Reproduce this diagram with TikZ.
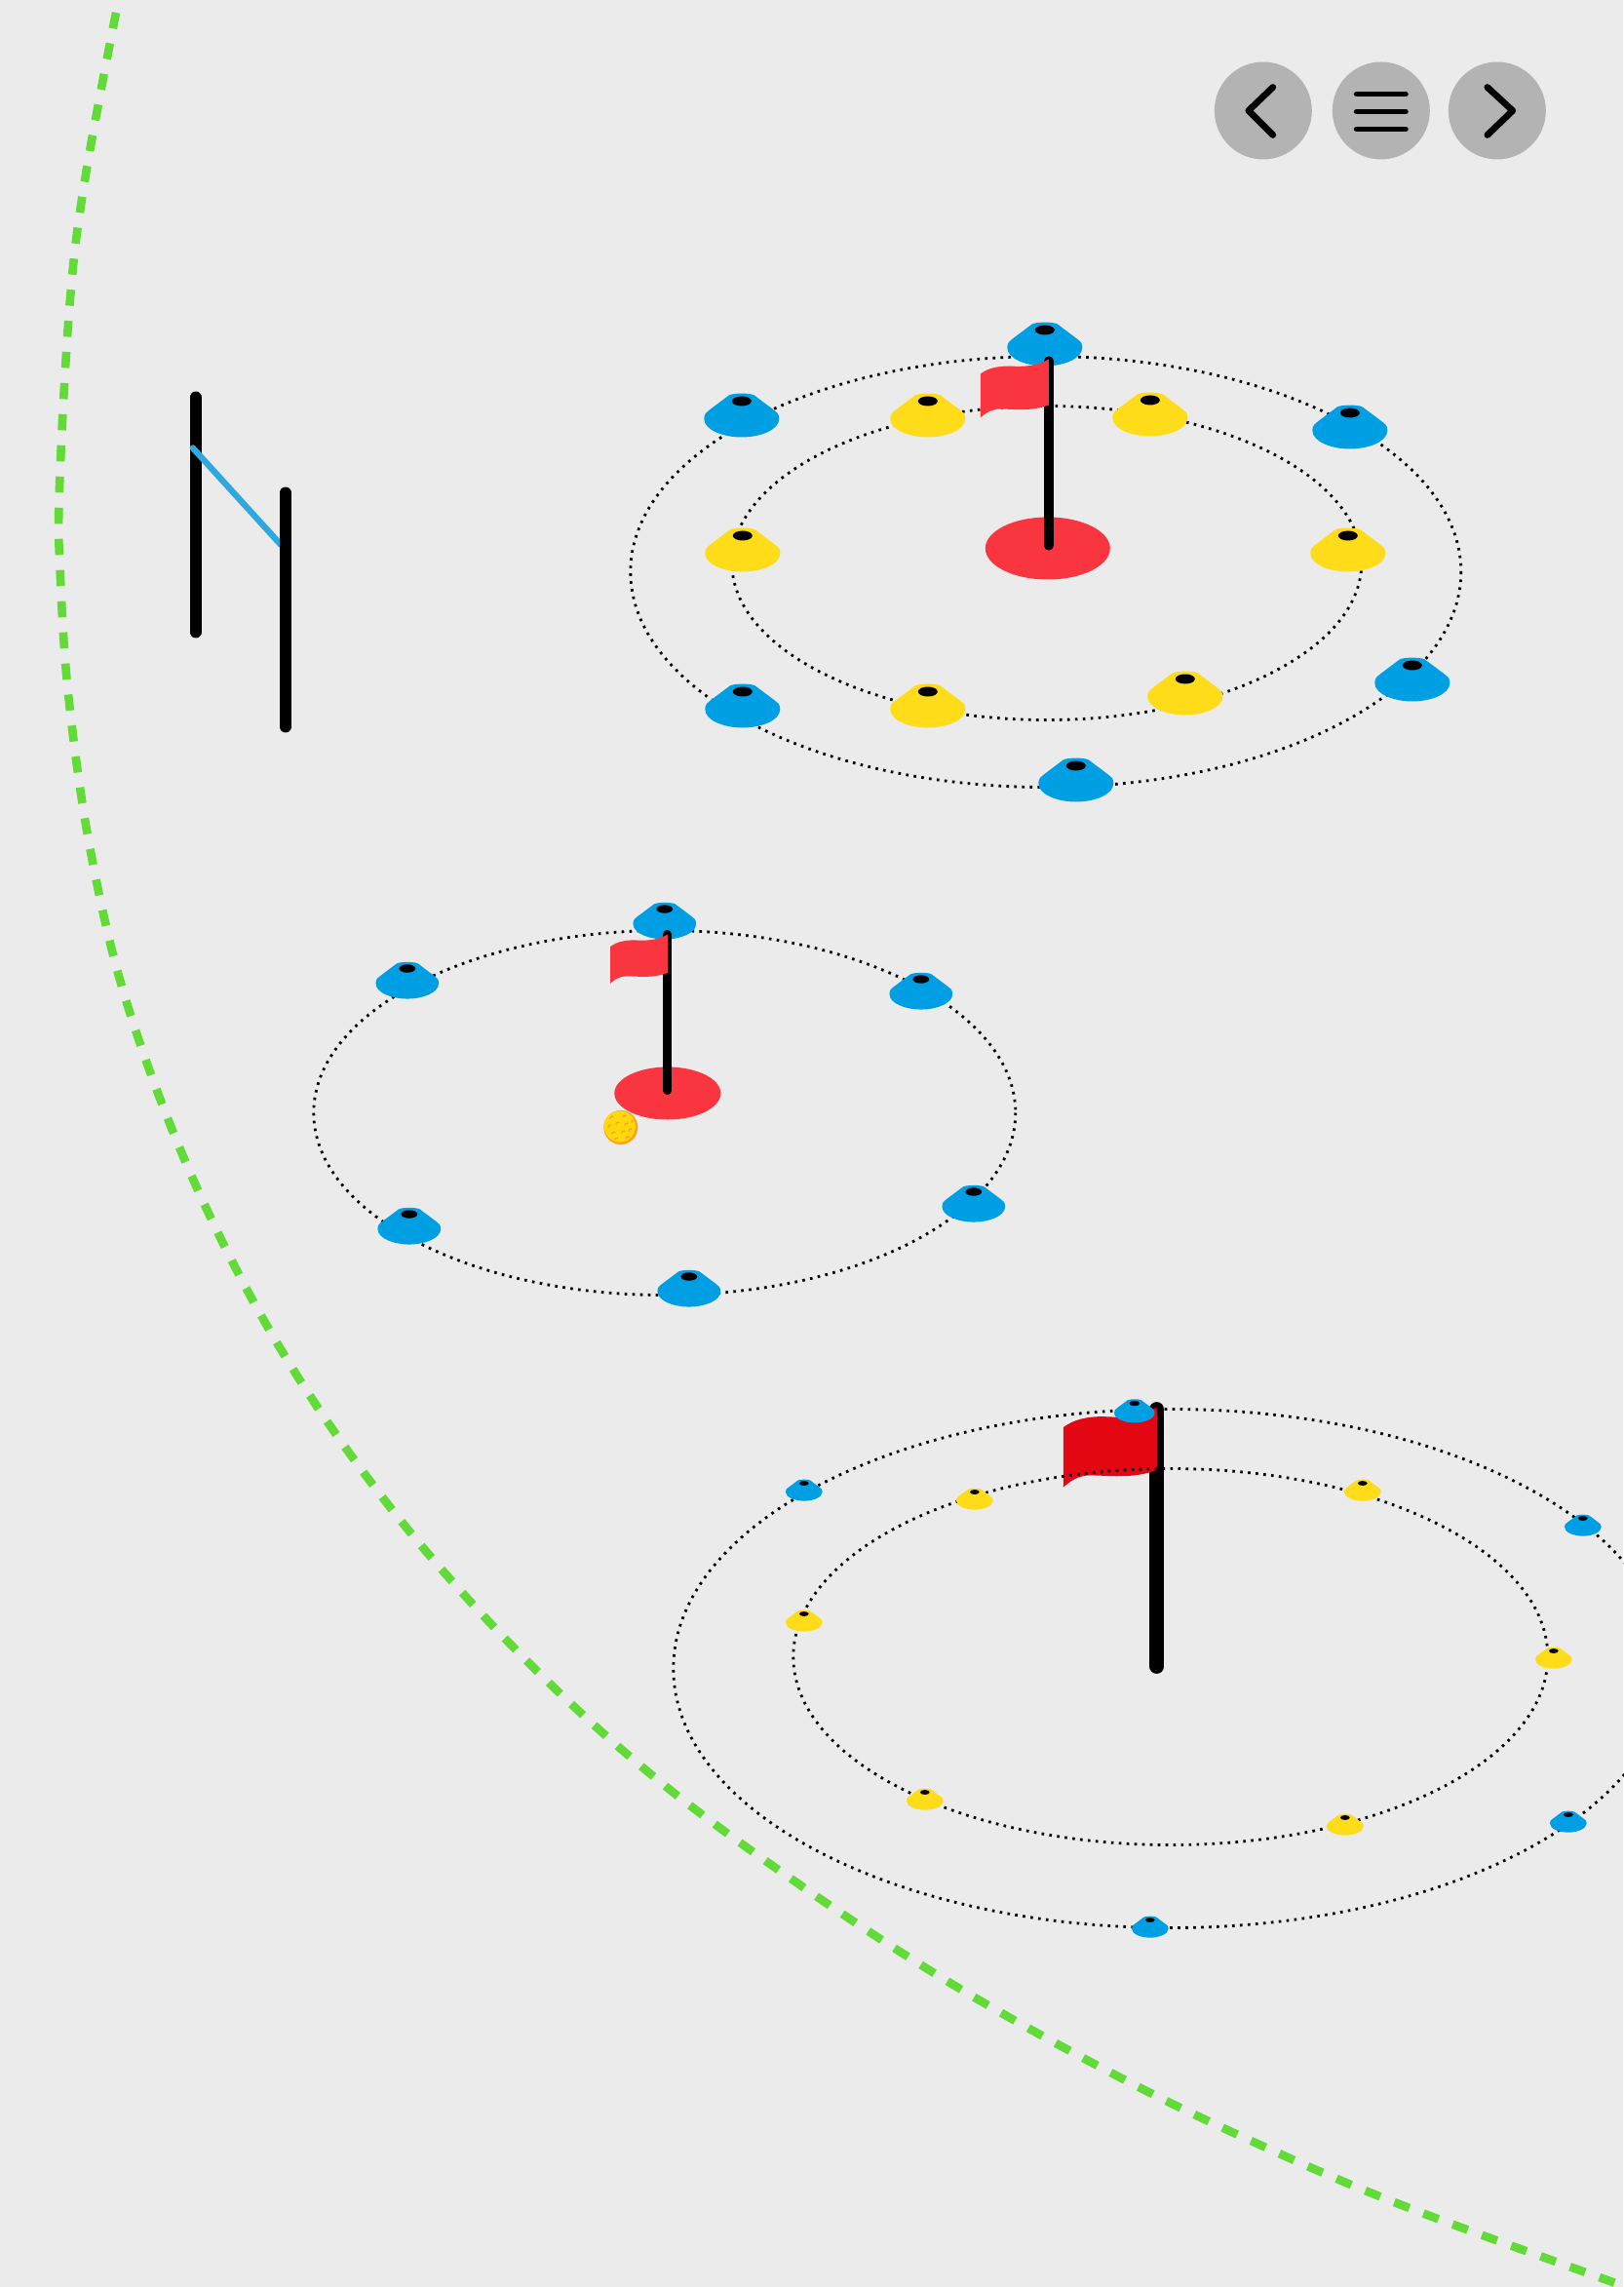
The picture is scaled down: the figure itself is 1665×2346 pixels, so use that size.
\documentclass[tikz,border=0pt]{standalone}
\definecolor{bg}{HTML}{EBEBEB}
\definecolor{cblue}{HTML}{009FE3}
\definecolor{cyellow}{HTML}{FFDC1A}
\definecolor{cred}{HTML}{F93640}
\definecolor{dred}{HTML}{E30613}
\definecolor{cgreen}{HTML}{62DA37}
\definecolor{lblue}{HTML}{2FA8E0}
\definecolor{btn}{HTML}{B3B3B3}
\definecolor{ballY}{HTML}{FFD80F}
\definecolor{ballO}{HTML}{FFA20F}
\newcommand{\conemark}[4]{%
\begin{scope}[shift={(#1,#2)},scale=#3]
\fill[#4] (-38.5,18) .. controls (-38.5,13) and (-36,11) .. (-33,9) -- (-13,-6) .. controls (-9,-8.5) and (9,-8.5) .. (13,-6) -- (33,9) .. controls (36,11) and (38.5,13) .. (38.5,18) .. controls (38.5,30) and (18,37) .. (0,37) .. controls (-18,37) and (-38.5,30) .. (-38.5,18) -- cycle;
\fill[black] (0,0) ellipse [x radius=10,y radius=5];
\end{scope}}
\newcommand{\flagmark}[4]{%
\begin{scope}[shift={(#1,#2)},scale=#3]
\fill[#4] (0,0) -- (0,47) .. controls (-18,54) and (-38,51) .. (-50,51) .. controls (-58,51) and (-65,55) .. (-70,60) -- (-70,15) .. controls (-62,9) and (-52,7) .. (-40,7) .. controls (-25,8) and (-12,7) .. (0,0) -- cycle;
\end{scope}}
\begin{document}
\begin{tikzpicture}[x=0.01cm,y=-0.01cm,
  ring/.style={draw=black,line width=0.8pt,dash pattern=on 0.75pt off 1.52pt},
  pole/.style={draw=black,line cap=round},
  chev/.style={draw=black,line width=1.9pt,line cap=round,line join=round}]
\useasboundingbox (0,0) rectangle (1665,2346);
\fill[bg] (0,0) rectangle (1665,2346);
% boundary
\draw[cgreen,line width=2.45pt,dash pattern=on 4.7pt off 4.4pt] plot[smooth,tension=0.6] coordinates {(119,13) (88,179) (72,306) (61,500) (62,593) (71,721) (94,879) (132,1035) (200,1214) (288,1384) (397,1542) (524,1687) (664,1817) (817,1931) (978,2036) (1147,2130) (1290,2199) (1438,2262) (1649,2339) (1670,2346)};
\begin{scope}[shift={(0.8,0.5)}]
% nav buttons
\fill[btn] (1295,113) circle (50);
\fill[btn] (1416,113) circle (50);
\fill[btn] (1535,113) circle (50);
\draw[chev] (1305,89) -- (1280,113) -- (1305,138);
\draw[chev,line width=1.7pt] (1391,96) -- (1441,96) (1391,114) -- (1441,114) (1391,132) -- (1441,132);
\draw[chev] (1525,89) -- (1551,113) -- (1525,138);
% left goal
\draw[pole,line width=3.4pt] (200,407) -- (200,648);
\draw[lblue,line width=1.8pt,line cap=round] (197,459) -- (287,558);
\draw[pole,line width=3.4pt] (292,505) -- (292,745);
% group 1
\draw[ring] (1072,586) ellipse [x radius=426,y radius=221];
\draw[ring] (1073,577) ellipse [x radius=323,y radius=161];
\fill[cred] (1074,562) ellipse [x radius=64,y radius=32];
\foreach \x/\y in {1071/338,760/411,1384/423,1448/682,1103/785,761/709} {\conemark{\x}{\y}{1}{cblue}}
\foreach \x/\y in {951/411,1179/410,761/549,1382/549,951/709,1215/696} {\conemark{\x}{\y}{1}{cyellow}}
\draw[pole,line width=2.9pt] (1075,370) -- (1075,559);
\flagmark{1075}{368}{1}{cred}
% group 2
\draw[ring] (681,1141) ellipse [x radius=360,y radius=187];
\fill[cred] (684,1121) ellipse [x radius=54.5,y radius=27];
\foreach \x/\y in {681/932,417/993,944/1004,998/1222,706/1309,419/1245} {\conemark{\x}{\y}{0.84}{cblue}}
\draw[pole,line width=2.6pt] (684,958) -- (684,1118);
\flagmark{684}{958}{0.84}{cred}
\begin{scope}[shift={(636,1156)}]
\fill[ballO] (0,0) circle (17.5);
\fill[ballY] (-1,-1) circle (16);
\foreach \a/\b in {-9/-10,4/-11,-11/-1,-3/-4,6/-3,13/-6,-7/6,3/5,10/3,-4/12,7/11}{\draw[ballO,line width=0.35pt] (\a-2,\b+1) arc (180:300:2.4);}
\end{scope}
% group 3
\draw[pole,line width=4.2pt] (1186,1445) -- (1186,1709);
\flagmark{1186}{1443}{1.37}{dred}
\draw[ring] (1200,1711) ellipse [x radius=510,y radius=266];
\draw[ring] (1200,1699) ellipse [x radius=387,y radius=193];
\conemark{1163}{1439}{0.54}{cblue}
\foreach \x/\y in {824/1521,1623/1557,1608/1861,1179/1969} {\conemark{\x}{\y}{0.49}{cblue}}
\foreach \x/\y in {999/1530,1397/1521,824/1655,1593/1693,948/1838,1379/1864} {\conemark{\x}{\y}{0.49}{cyellow}}
\end{scope}
\end{tikzpicture}
\end{document}
